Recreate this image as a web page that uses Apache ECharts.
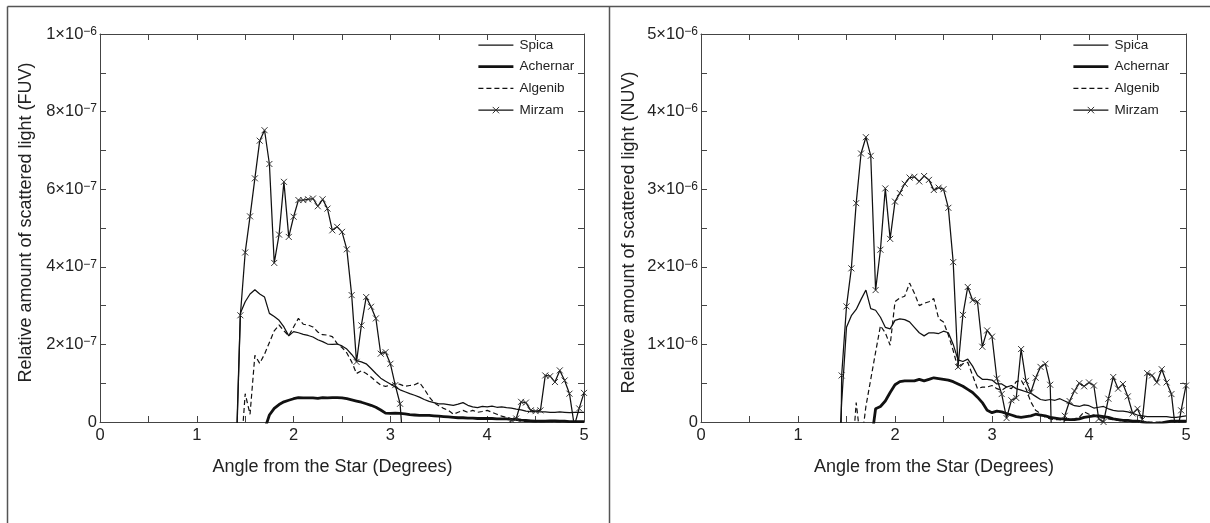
<!DOCTYPE html>
<html>
<head>
<meta charset="utf-8">
<script src="https://cdn.jsdelivr.net/npm/echarts@6/dist/echarts.min.js"></script>
<style>html,body{margin:0;padding:0;background:#fff}#c{width:1210px;height:523px}</style>
</head>
<body>
<div id="c"></div>
<script>
// Angle from the star (degrees)
const angles = [1.40,1.45,1.50,1.55,1.60,1.65,1.70,1.75,1.80,1.85,1.90,1.95,2.00,2.05,2.10,2.15,2.20,2.25,2.30,2.35,2.40,2.45,2.50,2.55,2.60,2.65,2.70,2.75,2.80,2.85,2.90,2.95,3.00,3.05,3.10,3.15,3.20,3.25,3.30,3.35,3.40,3.45,3.50,3.55,3.60,3.65,3.70,3.75,3.80,3.85,3.90,3.95,4.00,4.05,4.10,4.15,4.20,4.25,4.30,4.35,4.40,4.45,4.50,4.55,4.60,4.65,4.70,4.75,4.80,4.85,4.90,4.95,5.00];

// FUV values in units of 1e-7
const fuvSpica = [-1.3,2.8,3.1,3.3,3.41,3.3,3.22,2.8,2.72,2.62,2.45,2.22,2.33,2.30,2.26,2.23,2.19,2.12,2.07,2.01,2.00,2.01,1.96,1.88,1.74,1.58,1.55,1.50,1.38,1.25,1.13,1.05,0.98,0.90,0.83,0.78,0.73,0.69,0.64,0.58,0.53,0.50,0.47,0.47,0.45,0.43,0.46,0.50,0.43,0.39,0.37,0.40,0.39,0.41,0.38,0.39,0.37,0.36,0.33,0.31,0.28,0.27,0.27,0.26,0.26,0.25,0.25,0.26,0.25,0.24,0.25,0.25,0.25];
const fuvAchernar = [null,null,null,null,null,null,-0.2,0.18,0.35,0.45,0.52,0.56,0.60,0.63,0.62,0.62,0.62,0.61,0.63,0.62,0.63,0.63,0.62,0.60,0.57,0.54,0.51,0.47,0.43,0.38,0.31,0.23,0.22,0.23,0.22,0.21,0.19,0.18,0.17,0.17,0.17,0.16,0.15,0.14,0.13,0.12,0.11,0.11,0.10,0.10,0.09,0.09,0.09,0.09,0.08,0.08,0.08,0.07,0.07,0.05,0.04,0.03,0.02,0.02,0.02,0.03,0.03,0.02,0.02,0.01,0.01,0.01,0.01];
const fuvAlgenib = [null,-1.0,0.73,0.2,1.72,1.51,1.75,2.05,2.35,2.50,2.35,2.22,2.45,2.67,2.52,2.50,2.45,2.32,2.25,2.24,2.20,2.02,1.92,1.78,1.55,1.25,1.32,1.25,1.16,1.05,0.95,0.92,0.95,1.00,0.97,0.92,0.94,0.96,1.02,0.85,0.65,0.50,0.42,0.35,0.30,0.20,0.25,0.30,0.25,0.30,0.25,0.27,0.30,0.25,0.20,0.15,0.12,0.08,0.05,0.02,0.01,0.01,0.00,0.00,0.01,0.01,0.00,0.00,0.01,0.00,0.00,0.00,0.00];
const fuvMirzam = [-1.5,2.75,4.37,5.3,6.28,7.25,7.52,6.65,4.1,4.83,6.19,4.77,5.29,5.72,5.72,5.74,5.76,5.56,5.74,5.5,4.94,5.03,4.9,4.45,3.27,1.55,2.49,3.22,2.97,2.67,1.76,1.80,1.50,0.95,0.47,-1.2,null,null,null,null,null,null,null,null,null,null,null,null,null,null,null,null,null,null,null,null,-0.3,0.05,0.09,0.52,0.50,0.30,0.28,0.30,1.20,1.18,1.03,1.33,1.07,0.73,-0.1,0.35,0.75];

// NUV values in units of 1e-6
const nuvSpica = [-1.0,0.25,1.22,1.37,1.45,1.58,1.70,1.46,1.44,1.35,1.22,1.20,1.31,1.33,1.32,1.29,1.22,1.15,1.11,1.15,1.15,1.14,1.17,1.15,1.00,0.80,0.78,0.81,0.72,0.60,0.55,0.55,0.54,0.49,0.49,0.45,0.47,0.43,0.41,0.39,0.37,0.33,0.29,0.28,0.29,0.28,0.30,0.27,0.24,0.21,0.20,0.22,0.21,0.18,0.19,0.20,0.17,0.15,0.14,0.14,0.13,0.11,0.09,0.08,0.07,0.07,0.07,0.07,0.07,0.06,0.06,0.07,0.08];
const nuvAchernar = [null,null,null,null,null,null,null,-0.3,0.17,0.20,0.27,0.38,0.48,0.52,0.53,0.53,0.53,0.55,0.53,0.55,0.57,0.56,0.55,0.54,0.52,0.49,0.46,0.42,0.38,0.32,0.25,0.15,0.12,0.14,0.13,0.11,0.09,0.07,0.06,0.07,0.08,0.10,0.09,0.08,0.06,0.05,0.04,0.04,0.03,0.03,0.04,0.06,0.07,0.08,0.08,0.07,0.06,0.04,0.03,0.02,0.02,0.01,0.01,0.00,-0.01,-0.02,-0.02,-0.01,0.00,0.01,0.01,0.01,0.01];
const nuvAlgenib = [null,null,null,-0.6,0.25,-0.3,0.2,0.55,0.90,1.24,1.15,0.99,1.55,1.60,1.62,1.79,1.66,1.50,1.53,1.55,1.59,1.33,1.29,1.12,0.92,0.69,0.75,0.77,0.60,0.43,0.45,0.45,0.47,0.43,0.41,0.45,0.43,0.52,0.54,0.43,0.26,0.15,0.11,0.06,0.04,0.03,0.03,0.02,0.03,0.04,0.06,0.13,0.10,0.09,0.06,0.05,0.04,0.03,0.02,0.01,0.00,0.00,0.00,0.00,0.00,0.00,0.00,0.00,0.00,0.00,0.00,0.00,0.00];
const nuvMirzam = [-6,0.60,1.49,1.98,2.82,3.46,3.67,3.43,1.70,2.22,3.01,2.36,2.84,2.95,3.07,3.15,3.16,3.10,3.17,3.12,2.99,3.02,3.00,2.76,2.06,0.71,1.38,1.74,1.57,1.55,0.97,1.18,1.10,0.56,0.36,0.05,0.28,0.31,0.94,0.53,0.38,0.57,0.71,0.75,0.48,-2.0,-0.5,0.08,0.27,0.40,0.50,0.46,0.51,0.47,0.04,0.00,0.30,0.58,0.43,0.49,0.33,0.11,0.17,0.03,0.63,0.60,0.51,0.68,0.51,0.36,-0.2,0.15,0.47];

const seriesNames = ['Spica','Achernar','Algenib','Mirzam'];
const xTickLabels = ['0','1','2','3','4','5'];
const panelTitles = ['Relative amount of scattered light (FUV)','Relative amount of scattered light (NUV)'];
const xTitle = 'Angle from the Star (Degrees)';
const fuvUnit = 1e-7, nuvUnit = 1e-6;
const fuvMax = 10, fuvStep = 2;   // in units of 1e-7
const nuvMax = 5, nuvStep = 1;    // in units of 1e-6

const FONT = '"Liberation Sans", Arial, Helvetica, sans-serif';
const INK = '#111';
const AX = '#444';

function pairs(vals){
  const out = [];
  vals.forEach((v,i)=>{ if(v!==null) out.push([angles[i], v]); });
  return out;
}
function sci(v){
  if (Math.abs(v) < 1e-20) return '0';
  const parts = v.toExponential(0).split('e');
  return '{m|' + parts[0] + '×10}{e|' + parts[1].replace('-','−') + '}';
}

const styleOf = {
  Spica:   {symbol:'none', itemStyle:{color:INK}, lineStyle:{color:INK, width:1.25}},
  Achernar:{symbol:'none', itemStyle:{color:INK}, lineStyle:{color:INK, width:2.8}},
  Algenib: {symbol:'none', itemStyle:{color:INK}, lineStyle:{color:INK, width:1.2, type:[5,3]}},
  Mirzam:  {symbol:'path://M0,0L10,10M10,0L0,10', symbolSize:6,
            itemStyle:{color:'transparent', borderColor:'#333', borderWidth:1},
            lineStyle:{color:INK, width:1.25}}
};

const panels = [
  {vals:[fuvSpica,fuvAchernar,fuvAlgenib,fuvMirzam], unit:fuvUnit, max:fuvMax, step:fuvStep},
  {vals:[nuvSpica,nuvAchernar,nuvAlgenib,nuvMirzam], unit:nuvUnit, max:nuvMax, step:nuvStep}
];

const grids = [
  {left:100, top:34, width:484, height:388},
  {left:701, top:34, width:485, height:388}
];

const tickCommon = {
  axisLine:{show:true, onZero:false, lineStyle:{color:AX, width:1}},
  axisTick:{show:true, inside:true, length:6, lineStyle:{color:AX, width:1}},
  minorTick:{show:true, splitNumber:2, length:6, lineStyle:{color:AX, width:1}},
  splitLine:{show:false}, minorSplitLine:{show:false}
};

const xAxis = [], yAxis = [], series = [];
panels.forEach((p, gi)=>{
  xAxis.push(Object.assign({gridIndex:gi, type:'value', min:0, max:5, interval:1, position:'bottom',
    axisLabel:{formatter:(v)=>xTickLabels[Math.round(v)], fontSize:16.5, color:'#222', fontFamily:FONT, margin:5},
    name:xTitle, nameLocation:'middle', nameGap:36,
    nameTextStyle:{fontSize:18, color:'#222', fontFamily:FONT, padding:[0,19,0,0]}
  }, tickCommon));
  xAxis.push(Object.assign({gridIndex:gi, type:'value', min:0, max:5, interval:1, position:'top',
    axisLabel:{show:false}}, tickCommon));
  yAxis.push(Object.assign({gridIndex:gi, type:'value', min:0, max:p.max, interval:p.step, position:'left',
    axisLabel:{formatter:(v)=> v===0 ? '0' : sci(v*p.unit), color:'#222', fontFamily:FONT, fontSize:16.5, margin:3,
      rich:{m:{fontSize:16.5, fontFamily:FONT, color:'#222', lineHeight:17, verticalAlign:'bottom', padding:[5,0,0,0]},
            e:{fontSize:12, fontFamily:FONT, color:'#222', lineHeight:12, verticalAlign:'top'}}},
    name:panelTitles[gi], nameLocation:'middle', nameGap: gi===0 ? 65 : 63, nameRotate:90,
    nameTextStyle:{fontSize:18, color:'#222', fontFamily:FONT, padding: gi===0 ? [0,0,0,11] : [0,9,0,0]}
  }, tickCommon));
  yAxis.push(Object.assign({gridIndex:gi, type:'value', min:0, max:p.max, interval:p.step, position:'right',
    axisLabel:{show:false}}, tickCommon));
  seriesNames.forEach((name, si)=>{
    series.push(Object.assign({
      type:'line', name:name, xAxisIndex:gi*2, yAxisIndex:gi*2,
      data:pairs(p.vals[si]), clip:true, silent:true, animation:false,
      emphasis:{disabled:true}
    }, styleOf[name]));
  });
});

const legendData = [
  {name:'Spica', lineStyle:{width:1.25, color:INK}, itemStyle:{opacity:0}},
  {name:'Achernar', lineStyle:{width:2.8, color:INK}, itemStyle:{opacity:0}},
  {name:'Algenib', lineStyle:{width:1.2, color:INK}, itemStyle:{opacity:0}},
  {name:'Mirzam', lineStyle:{width:1.25, color:INK}, itemStyle:{borderWidth:1, borderColor:'#333', color:'transparent'}}
];
const legendCommon = {
  orient:'vertical', padding:0, itemWidth:35, itemHeight:8, itemGap:7.7, selectedMode:false,
  data:legendData, textStyle:{fontSize:13.5, lineHeight:14, color:'#222', fontFamily:FONT, padding:[0,0,0,1]}
};

const chart = echarts.init(document.getElementById('c'), null, {renderer:'canvas'});
chart.setOption({
  backgroundColor:'#fff',
  animation:false,
  grid:grids,
  xAxis:xAxis,
  yAxis:yAxis,
  legend:[
    Object.assign({left:477, top:38}, legendCommon),
    Object.assign({left:1072, top:38}, legendCommon)
  ],
  graphic:[
    {type:'line', silent:true, shape:{x1:7.5,y1:6.5,x2:1210,y2:6.5}, style:{stroke:'#555', lineWidth:1.5}},
    {type:'line', silent:true, shape:{x1:7.5,y1:6.5,x2:7.5,y2:523}, style:{stroke:'#555', lineWidth:1.5}},
    {type:'line', silent:true, shape:{x1:609.5,y1:6.5,x2:609.5,y2:523}, style:{stroke:'#555', lineWidth:1.5}}
  ],
  series:series
});
</script>
</body>
</html>
